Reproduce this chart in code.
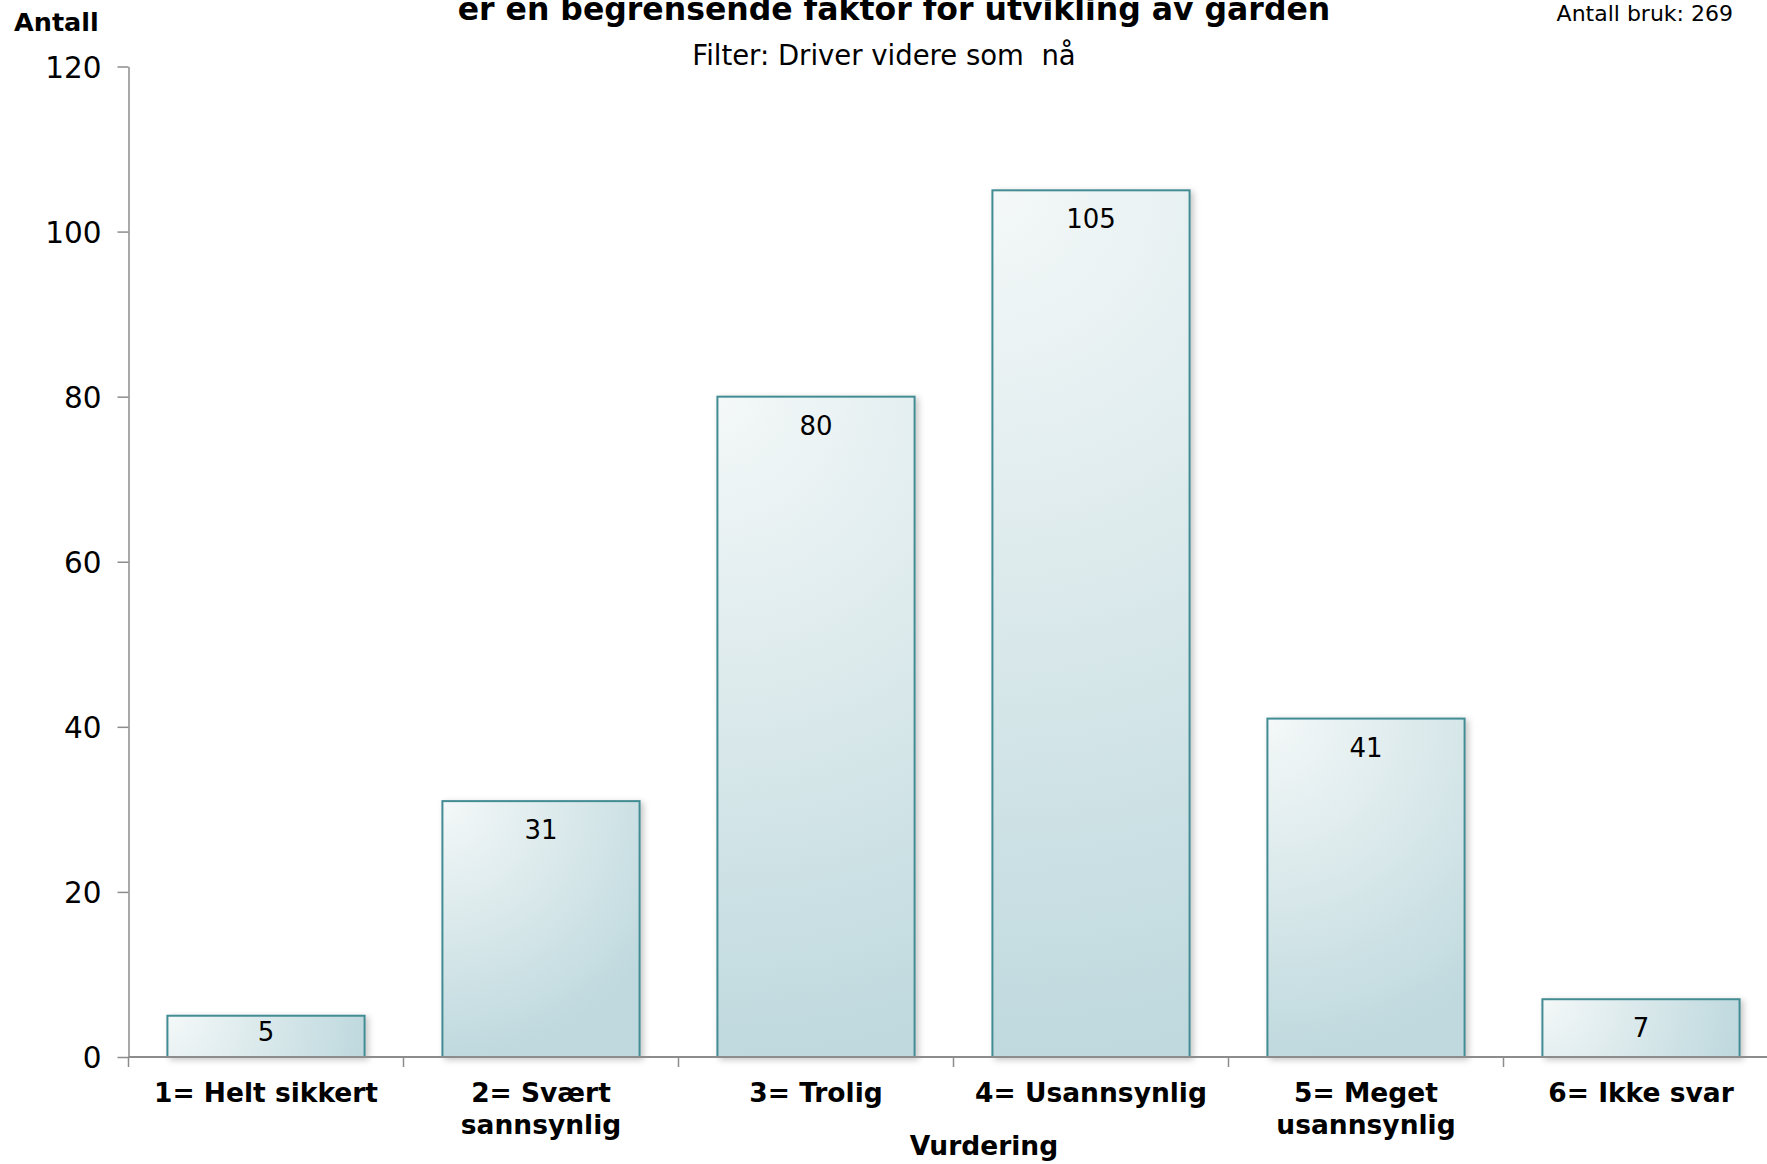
<!DOCTYPE html>
<html>
<head>
<meta charset="utf-8">
<script src="https://cdn.jsdelivr.net/npm/d3@7"></script>
<style>
  body { margin: 0; background: #fff; }
  text { font-family: "DejaVu Sans", Verdana, sans-serif; fill: #000; white-space: pre; }
</style>
</head>
<body>
<div class="canvas"></div>
<script>
// data
const categories = ["1", "2", "3", "4", "5", "6"];
const categoryLabels = [
  ["1= Helt sikkert"],
  ["2= Svært", "sannsynlig"],
  ["3= Trolig"],
  ["4= Usannsynlig"],
  ["5= Meget", "usannsynlig"],
  ["6= Ikke svar"]
];
const counts = [5, 31, 80, 105, 41, 7];
const yTicks = [0, 20, 40, 60, 80, 100, 120];

const width = 1767;
const height = 1164;
const margin = { top: 66.5, left: 128.5, bottom: 107 };
const plotWidth = 1650;
const plotHeight = height - margin.top - margin.bottom;

const svg = d3
  .select(".canvas")
  .append("svg")
  .attr("width", width)
  .attr("height", height);

const defs = svg.append("defs");

const shadow = defs
  .append("filter")
  .attr("id", "shadow")
  .attr("x", "-10%")
  .attr("y", "-10%")
  .attr("width", "130%")
  .attr("height", "130%");
shadow
  .append("feDropShadow")
  .attr("dx", 3)
  .attr("dy", 2)
  .attr("stdDeviation", 3)
  .attr("flood-color", "#000")
  .attr("flood-opacity", 0.22);

// scales
const x = d3
  .scaleBand()
  .domain(categories)
  .range([margin.left, margin.left + plotWidth])
  .paddingInner(0.283)
  .paddingOuter(0.1415);

const y = d3
  .scaleLinear()
  .domain([0, 120])
  .range([margin.top + plotHeight, margin.top]);

// one radial gradient per bar, from the top-left corner
const grads = defs
  .selectAll("radialGradient")
  .data(counts)
  .enter()
  .append("radialGradient")
  .attr("id", (d, i) => "barGrad" + i)
  .attr("gradientUnits", "userSpaceOnUse")
  .attr("cx", (d, i) => x(categories[i]))
  .attr("cy", (d) => y(d))
  .attr("fx", (d, i) => x(categories[i]))
  .attr("fy", (d) => y(d))
  .attr("r", (d) => Math.max(x.bandwidth(), y(0) - y(d)));
grads.append("stop").attr("offset", "0%").style("stop-color", "#f4f8f8");
grads.append("stop").attr("offset", "100%").style("stop-color", "#bfd9de");

// titles
svg
  .append("text")
  .attr("x", 894)
  .attr("y", 20)
  .attr("text-anchor", "middle")
  .style("font-size", "31.5px")
  .style("font-weight", "bold")
  .text("er en begrensende faktor for utvikling av garden");

svg
  .append("text")
  .attr("x", 884)
  .attr("y", 65)
  .attr("text-anchor", "middle")
  .style("font-size", "27.5px")
  .text("Filter: Driver videre som  nå");

svg
  .append("text")
  .attr("x", 1733)
  .attr("y", 21)
  .attr("text-anchor", "end")
  .style("font-size", "22px")
  .text("Antall bruk: 269");

svg
  .append("text")
  .attr("x", 14)
  .attr("y", 31)
  .style("font-size", "25.5px")
  .style("font-weight", "bold")
  .text("Antall");

// bars
const bars = svg.append("g");
bars
  .selectAll("rect")
  .data(counts)
  .enter()
  .append("rect")
  .attr("x", (d, i) => x(categories[i]))
  .attr("y", (d) => y(d))
  .attr("width", x.bandwidth())
  .attr("height", (d) => y(0) - y(d))
  .attr("fill", (d, i) => `url(#barGrad${i})`)
  .attr("stroke", "#438c93")
  .attr("stroke-width", 2)
  .attr("filter", "url(#shadow)");

// value labels sit near the top, pushed up for very short bars
bars
  .selectAll("text")
  .data(counts)
  .enter()
  .append("text")
  .attr("x", (d, i) => x(categories[i]) + x.bandwidth() / 2)
  .attr("y", (d) => Math.min(y(d) + 38, y(0) - 16))
  .attr("text-anchor", "middle")
  .style("font-size", "26px")
  .text((d) => d);

// y axis
const yAxis = d3
  .axisLeft(y)
  .tickValues(yTicks)
  .tickSize(11)
  .tickPadding(16)
  .tickSizeOuter(0);

const yAxisGroup = svg
  .append("g")
  .attr("transform", `translate(${margin.left}, 0)`)
  .call(yAxis);
yAxisGroup.selectAll("path, line").attr("stroke", "#8c8c8c").attr("stroke-width", 1.5);
yAxisGroup.selectAll("text").style("font-size", "29.5px").attr("dy", "0.36em");

// x axis line and category boundary ticks
const xAxisGroup = svg.append("g");
xAxisGroup
  .append("line")
  .attr("x1", margin.left)
  .attr("x2", margin.left + plotWidth)
  .attr("y1", y(0))
  .attr("y2", y(0))
  .attr("stroke", "#8c8c8c")
  .attr("stroke-width", 2);

const half = (x.step() * x.paddingInner()) / 2;
xAxisGroup
  .selectAll(".bound")
  .data(categories)
  .enter()
  .append("line")
  .attr("class", "bound")
  .attr("x1", (d) => x(d) - half)
  .attr("x2", (d) => x(d) - half)
  .attr("y1", y(0))
  .attr("y2", y(0) + 10)
  .attr("stroke", "#8c8c8c")
  .attr("stroke-width", 1.5);

// category labels
const catLabels = xAxisGroup
  .selectAll(".cat")
  .data(categoryLabels)
  .enter()
  .append("text")
  .attr("class", "cat")
  .attr("text-anchor", "middle")
  .style("font-size", "26.5px")
  .style("font-weight", "bold");

catLabels
  .selectAll("tspan")
  .data((d, i) => d.map((line, j) => ({ line, j, i })))
  .enter()
  .append("tspan")
  .attr("x", (d) => x(categories[d.i]) + x.bandwidth() / 2)
  .attr("y", (d) => y(0) + 45 + d.j * 32)
  .text((d) => d.line);

svg
  .append("text")
  .attr("x", 984)
  .attr("y", 1155)
  .attr("text-anchor", "middle")
  .style("font-size", "26.5px")
  .style("font-weight", "bold")
  .text("Vurdering");
</script>
</body>
</html>
